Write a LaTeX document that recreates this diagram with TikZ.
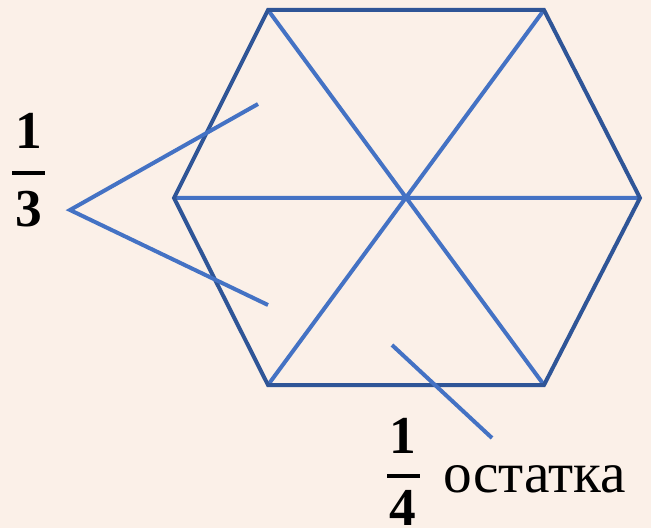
\documentclass[tikz,border=0pt]{standalone}
\usepackage{fontspec}
\setmainfont{Liberation Serif}
\definecolor{bgc}{HTML}{FBF0E8}
\definecolor{hexc}{HTML}{2F5597}
\definecolor{spk}{HTML}{4472C4}
\begin{document}
\begin{tikzpicture}[x=0.75pt,y=-0.75pt,
  hexline/.style={draw=hexc,line width=3pt,line join=miter},
  spoke/.style={draw=spk,line width=3pt},
  num/.style={font=\fontsize{40}{44}\selectfont\bfseries,inner sep=0pt},
  fbar/.style={draw=black,line width=2.4pt}]
\fill[bgc] (0,0) rectangle (651,528);
\useasboundingbox (0,0) rectangle (651,528);
\coordinate (A) at (268,10);
\coordinate (B) at (544,10);
\coordinate (C) at (640,198);
\coordinate (D) at (544,385);
\coordinate (E) at (268,385);
\coordinate (F) at (174,198);
\coordinate (O) at (407,198);
\draw[spoke] (A) -- (D) (B) -- (E) (F) -- (C);
\draw[hexline] (A) -- (B) -- (C) -- (D) -- (E) -- (F) -- cycle;
% one-third label
\node[num] (n1) at (29,131) {1};
\coordinate (b1l) at (12,173);
\coordinate (b1r) at (45,173);
\draw[fbar] (b1l) -- (b1r);
\node[num] (d1) at (29,209) {3};
\coordinate (tip) at (70,210);
\coordinate (t1) at (258,104);
\coordinate (t2) at (268,305);
\draw[spoke] (t1) -- (tip) -- (t2);
% one-quarter label
\node[num] (n2) at (403,436) {1};
\coordinate (b2l) at (387,476);
\coordinate (b2r) at (420,476);
\draw[fbar] (b2l) -- (b2r);
\node[num] (d2) at (403,508) {4};
\node[anchor=base west,inner sep=0pt,font=\fontsize{43}{47}\selectfont] (ost) at (443,492) {остатка};
\coordinate (q1) at (392,345);
\coordinate (q2) at (492,438);
\draw[spoke] (q1) -- (q2);
\end{tikzpicture}
\end{document}
